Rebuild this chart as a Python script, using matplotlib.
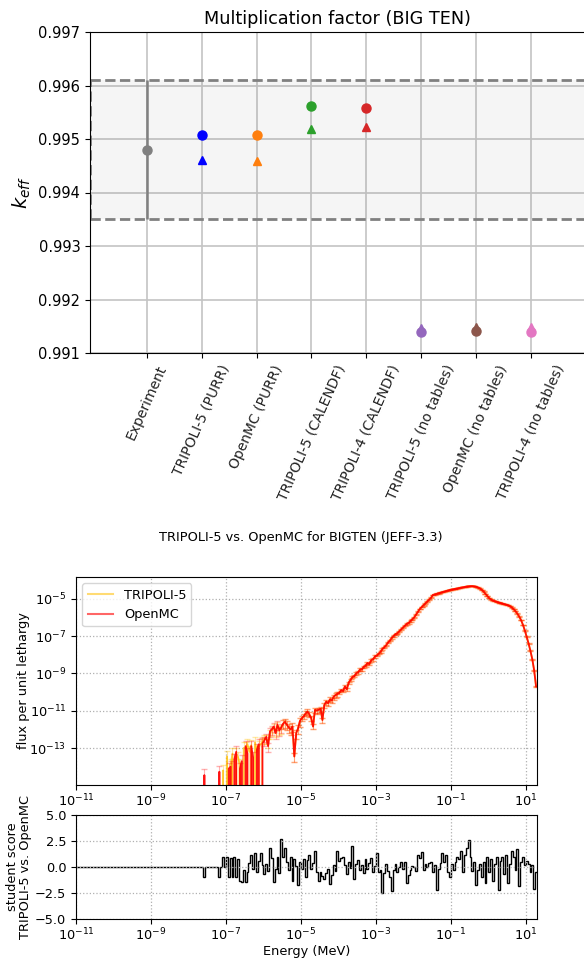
import numpy as np
import matplotlib.pyplot as plt
from matplotlib.lines import Line2D

# ---------------- k_eff comparison (BIG TEN) ----------------
labels = ['Experiment', 'TRIPOLI-5 (PURR)', 'OpenMC (PURR)', 'TRIPOLI-5 (CALENDF)',
          'TRIPOLI-4 (CALENDF)', 'TRIPOLI-5 (no tables)', 'OpenMC (no tables)',
          'TRIPOLI-4 (no tables)']
colors = ['grey', 'blue', '#ff7f0e', '#2ca02c', '#d62728', '#9467bd', '#8c564b', '#e377c2']
k_circle = [0.99480, 0.99508, 0.99507, 0.99562, 0.99558, 0.99140, 0.99141, 0.99140]
k_triangle = [None, 0.99461, 0.99458, 0.99518, 0.99522, 0.99147, 0.99148, 0.99149]
k_exp = 0.99480
k_exp_err = 0.00130

# ---------------- flux spectra (BIGTEN, JEFF-3.3) ----------------
# energy grid: 20 bins per decade from 1e-11 to 20 MeV, first 60 bins (below 1e-8) empty
n_empty = 60
# log10 of OpenMC flux per unit lethargy, from 1e-8 MeV upward (None = no score)
omc_log = ([None] * 8 + [-14.45] + [None] * 7 + [-14.27] + [None] * 4 + [-14.1] +
           [-14.0, None, -13.6, -13.2, None, -14.1, -13.7, None] +
           [-12.9, -13.3, None, -12.9, -13.5, None, -13.1, -12.8, None, -12.75] +
           [-12.6, -12.4, -12.9, -12.1, -12.0, -11.85, -12.2, -11.75, -12.05, -11.9] +
           [-11.7, -11.6, -11.75, -11.9, -12.0, -11.85, -13.45, -12.2, -11.95, -11.55] +
           [-11.4, -11.3, -11.15, -11.05, -11.2, -11.4, -11.85, -10.96, -11.0, -10.95] +
           [-10.9, -11.5, -10.7, -10.52, -10.6, -10.4, -10.45, -10.25, -10.16, -10.1] +
           [-10.05, -9.9, -9.95, -9.7, -9.85, -9.5, -9.35, -9.2, -9.15, -9.0] +
           [-8.95, -8.8, -8.8, -8.65, -8.6, -8.45, -8.5, -8.3, -8.25, -8.1] +
           [-8.05, -7.95, -7.85, -7.7, -7.6, -7.5, -7.35, -7.25, -7.1, -7.0] +
           [-6.9, -6.85, -6.75, -6.65, -6.55, -6.45, -6.35, -6.3, -6.2, -6.1] +
           [-6.0, -5.85, -5.7, -5.55, -5.45, -5.35, -5.25, -5.15, -5.05, -4.95] +
           [-4.8, -4.77, -4.74, -4.71, -4.68, -4.65, -4.62, -4.59, -4.56, -4.53] +
           [-4.51, -4.49, -4.47, -4.45, -4.43, -4.41, -4.39, -4.37, -4.35, -4.34] +
           [-4.33, -4.33, -4.34, -4.36, -4.4, -4.45, -4.52, -4.62, -4.74, -4.86] +
           [-4.97, -5.05, -5.1, -5.14, -5.17, -5.2, -5.23, -5.26, -5.29, -5.32] +
           [-5.35, -5.4, -5.47, -5.56, -5.67, -5.8, -5.96, -6.15, -6.4, -6.7] +
           [-7.05, -7.4, -7.8, -8.25, -8.85, -9.7])
# TRIPOLI-5 differs visibly only below ~3e-6 MeV; above it lies on the OpenMC curve
t5_log_low = ([None] * 8 + [None] + [None] * 7 + [None, None, -14.2, None, -13.46, None] +
              [-13.9, -13.3, None, -13.3, -13.5, -13.9, None, -13.0] +
              [-13.0, -12.8, -13.2, -12.85, None, -12.7, -13.2, -12.9, -12.8, -12.7] +
              [-12.5, -12.5, -12.7, -12.2, -12.05, -11.9, -12.1, -11.8, -12.0, -11.95])
t5_log = t5_log_low + omc_log[len(t5_log_low):]
# relative standard deviation, per decade from 1e-8 MeV
rel_err_decade = [1.0, 1.0, 0.5, 0.3, 0.15, 0.08, 0.04, 0.02, 0.02, 0.06]
rel_err_count = [20, 20, 20, 20, 20, 20, 20, 20, 20, 6]

# student score TRIPOLI-5 vs OpenMC, from 1e-8 MeV upward
student = ([0] * 8 + [-1] + [0] * 7 + [-1, 0, 1, 0, 1, -1] +
           [0.9, -1.0, 1.0, -1.0, 0.8, -1.3, -1.4, -0.3, -1.4,
            -0.5, 0.4, 1.2, -0.2, 1.3, -0.5, 0.6, 1.3, 0.2,
            -0.7, 0.3, -0.4, 1.8, 0.9, -1.4, -0.2, 1.0, -0.6,
            2.7, 1.0, 1.8, 0.5, -0.3, 1.0, -1.3, 0.8, 0.1,
            -1.7, 0.5, -0.2, 0.8, -1.0, 0.7, 1.2, -0.2, 0.4,
            1.5, -0.5, -1.3, -0.5, -0.9, -1.2, -0.6, -0.2,
            -1.6, -0.8, 0.2, -0.4, 1.5, 0.6, 0.9, 1.0, 0.2,
            -0.7, 0.5, -0.1, 2.0, -1.2, 0.3, 0.7, -0.3, 0.2, -0.6,
            0.8, -0.2, 0.4, 0.9, -0.5, 0.1, 1.3, -0.5, -0.3,
            -2.5, -0.6, 0.3, -0.4] +
           [-1.0, -2.3, -0.3, 0.3, -0.5, 0.0, 0.5, -0.2, 0.5,
            -1.5, -0.8, -0.3, 0.1, 0.0, -0.4, 1.2, 0.9, 1.4,
            -0.3, 0.3, 0.0, 0.4, 0.5, -0.5, 0.2, -2.2, -0.2, 0.4,
            1.3, 0.5, 1.2, -0.5, -1.0, 0.3, -0.3, 0.5,
            1.0, 0.8, 1.5, -0.5, 1.2, 1.8, 2.6, 1.0, -0.4, 0.5,
            -1.7, -0.3, 0.3, -1.0, 0.5, -1.5, 1.0, -0.5, 0.8,
            -1.3, 0.3, 1.0, -2.2, 0.6, 1.0, -0.7, 1.2, -1.5, 0.3,
            1.5, 1.0, -0.3, 1.7, -1.8, 0.5, 1.0, 0.2, 0.6,
            0.3, -0.5, 0.2, -2.1, -0.5])


def to_flux(logs):
    vals = [0.0 if v is None else 10.0 ** v for v in logs]
    return np.concatenate([np.zeros(n_empty), vals])


flux_omc = to_flux(omc_log)
flux_t5 = to_flux(t5_log)
rel_err = np.concatenate([np.zeros(n_empty), np.repeat(rel_err_decade, rel_err_count)])
score = np.concatenate([np.zeros(n_empty), student])
edges = np.logspace(-11, np.log10(20.0), len(score) + 1)
centers = np.sqrt(edges[:-1] * edges[1:])

fig = plt.figure(figsize=(5.84, 9.58), dpi=100)
W, H = 584.0, 958.0


def px_axes(left, top, right, bottom):
    return fig.add_axes([left / W, 1 - bottom / H, (right - left) / W, (bottom - top) / H])


# ---- top: k_eff ----
ax = px_axes(90, 32, 585.4, 353)
x = np.arange(len(labels))
ax.axhspan(k_exp - k_exp_err, k_exp + k_exp_err, facecolor='0.5', alpha=0.08, zorder=1)
ax.axhline(k_exp + k_exp_err, color='0.5', ls='--', lw=2, zorder=2)
ax.axhline(k_exp - k_exp_err, color='0.5', ls='--', lw=2, zorder=2)
ax.axvline(-1.04, ymin=(k_exp - k_exp_err - 0.991) / 0.006, ymax=(k_exp + k_exp_err - 0.991) / 0.006,
           color='0.5', ls='--', lw=2, zorder=2)
ax.errorbar([x[0]], [k_exp], yerr=[k_exp_err], fmt='o', color=colors[0], ms=6.5,
            elinewidth=1.8, capsize=0, zorder=3)
for i in range(1, len(labels)):
    ax.plot(x[i], k_circle[i], 'o', color=colors[i], ms=6.5, zorder=3)
    ax.plot(x[i], k_triangle[i], '^', color=colors[i], ms=5.5, zorder=3)
ax.set_xlim(-1.04, 8)
ax.set_ylim(0.991, 0.997)
ax.set_yticks(np.arange(0.991, 0.9971, 0.001))
ax.set_yticklabels(['%.3f' % v for v in np.arange(0.991, 0.9971, 0.001)])
ax.set_xticks(x)
ax.set_xticklabels(labels, rotation=66, fontsize=10, color='#222222')
ax.tick_params(axis='y', labelsize=10.5)
ax.grid(True, color='#c4c4c4', lw=1.2)
ax.set_axisbelow(True)
ax.set_ylabel('$k_{eff}$', fontsize=14)
ax.set_title('Multiplication factor (BIG TEN)', fontsize=12.7)

# ---- bottom: flux ----
fs = 9.3
fig.text(300.5 / W, 1 - 537 / H, 'TRIPOLI-5 vs. OpenMC for BIGTEN (JEFF-3.3)',
         ha='center', va='center', fontsize=fs)

ax1 = px_axes(76, 577, 537, 785)
ax1.set_xscale('log')
ax1.set_yscale('log')
ax1.errorbar(centers, flux_t5, yerr=flux_t5 * rel_err, color='#ffbf00', alpha=0.35,
             lw=0, elinewidth=0.8, capsize=2)
ax1.plot(centers, flux_t5, color='#ffbf00', alpha=0.75, lw=1.3)
ax1.errorbar(centers, flux_omc, yerr=flux_omc * rel_err, color='red', alpha=0.3,
             lw=0, elinewidth=0.8, capsize=2)
ax1.plot(centers, flux_omc, color='red', alpha=0.9, lw=1.3)
handles = [Line2D([], [], color='#ffbf00', alpha=0.55, lw=1.5),
           Line2D([], [], color='red', alpha=0.6, lw=1.5)]
ax1.legend(handles, ['TRIPOLI-5', 'OpenMC'], loc='upper left', fontsize=fs)
ax1.set_xlim(1e-11, 20)
ax1.set_ylim(10 ** -14.98, 10 ** -3.84)
ax1.set_xticks(10.0 ** np.arange(-11, 2, 2))
ax1.set_yticks(10.0 ** np.arange(-13, -4, 2))
ax1.xaxis.set_minor_locator(plt.NullLocator())
ax1.yaxis.set_minor_locator(plt.NullLocator())
ax1.tick_params(labelsize=fs)
ax1.tick_params(axis='x', pad=2)
ax1.grid(True, ls=':', color='#b0b0b0', lw=0.9)
ax1.set_ylabel('flux per unit lethargy', fontsize=fs)
ax1.yaxis.set_label_coords(-0.10, 0.5)

# ---- bottom: student score ----
ax2 = px_axes(76, 815, 537, 919)
ax2.set_xscale('log')
ax2.stairs(score, edges, baseline=None, color='black', lw=1.0)
ax2.set_xlim(1e-11, 20)
ax2.set_ylim(-5, 5)
ax2.set_yticks([-5, -2.5, 0, 2.5, 5])
ax2.set_xticks(10.0 ** np.arange(-11, 2, 2))
ax2.xaxis.set_minor_locator(plt.NullLocator())
ax2.tick_params(labelsize=fs)
ax2.tick_params(axis='x', pad=2)
ax2.grid(True, ls=':', color='#b0b0b0', lw=0.9)
ax2.set_ylabel('student score\nTRIPOLI-5 vs. OpenMC', fontsize=fs, linespacing=1.0)
ax2.yaxis.set_label_coords(-0.095, 0.5)
ax2.set_xlabel('Energy (MeV)', fontsize=fs, labelpad=1)

fig.savefig('out.png', dpi=100)
